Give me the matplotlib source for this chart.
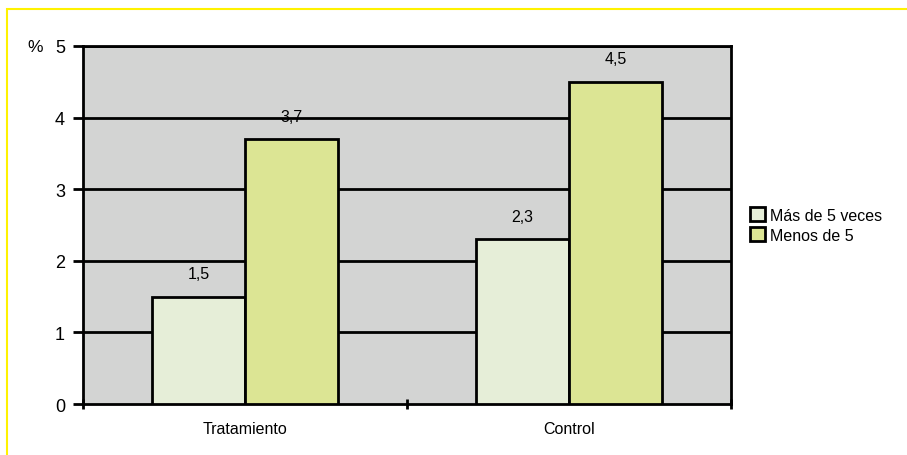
import matplotlib
matplotlib.use("Agg")
import matplotlib.pyplot as plt
from matplotlib.patches import Rectangle

categories = ["Tratamiento", "Control"]
series_names = ["Más de 5 veces", "Menos de 5"]
mas_de_5 = [1.5, 2.3]
menos_de_5 = [3.7, 4.5]
labels_mas = ["1,5", "2,3"]
labels_menos = ["3,7", "4,5"]
yticks = [0, 1, 2, 3, 4, 5]

plt.rcParams['font.family'] = ['Liberation Sans', 'DejaVu Sans']

fig = plt.figure(figsize=(9.07, 4.56), dpi=100)
fig.patches.append(Rectangle((7/907, -0.1), 1.0, 1 - 10/456 + 0.1, transform=fig.transFigure,
                             fill=False, edgecolor='#fff200', linewidth=1.5))
ax = fig.add_axes([83/907, 1 - 405/456, (731 - 83)/907, (405 - 47)/456])
ax.set_facecolor('#d3d4d3')

w = 0.287
x = list(range(len(categories)))
c1, c2 = '#e6eed8', '#dce594'
b1 = ax.bar([i - w/2 for i in x], mas_de_5, w, color=c1, edgecolor='black', linewidth=2, zorder=3, label=series_names[0])
b2 = ax.bar([i + w/2 for i in x], menos_de_5, w, color=c2, edgecolor='black', linewidth=2, zorder=3, label=series_names[1])
for i in x:
    ax.text(i - w/2, mas_de_5[i] + 0.32, labels_mas[i], ha='center', va='center', fontsize=11.5, zorder=4)
    ax.text(i + w/2, menos_de_5[i] + 0.32, labels_menos[i], ha='center', va='center', fontsize=11.5, zorder=4)

ax.set_xlim(-0.5, 1.5)
ax.set_ylim(0, 5)
ax.set_yticks(yticks)
ax.set_yticklabels([str(v) for v in yticks], fontsize=13)
for v in yticks[1:]:
    ax.axhline(v, color='black', linewidth=2, zorder=2)
ax.set_xticks([-0.5, 0.5, 1.5])
ax.set_xticklabels([])
ax.set_xticks(x, minor=True)
ax.set_xticklabels(categories, minor=True, fontsize=11.5)
ax.tick_params(axis='x', which='minor', length=0, pad=12)
ax.tick_params(axis='x', which='major', length=7, width=2, direction='inout')
ax.tick_params(axis='y', length=7, width=2, direction='out', pad=6)
for s in ax.spines.values():
    s.set_linewidth(2)
    s.set_color('black')

fig.text(27/907, 1 - 47/456, '%', ha='left', va='center', fontsize=12.5)

leg = ax.legend(loc='center left', bbox_to_anchor=(1.03, 0.5), frameon=False, fontsize=11.5,
                handlelength=0.9, handleheight=0.9, handletextpad=0.3, labelspacing=0.3, borderaxespad=0,
                borderpad=0)

fig.savefig('out.png', dpi=100)
